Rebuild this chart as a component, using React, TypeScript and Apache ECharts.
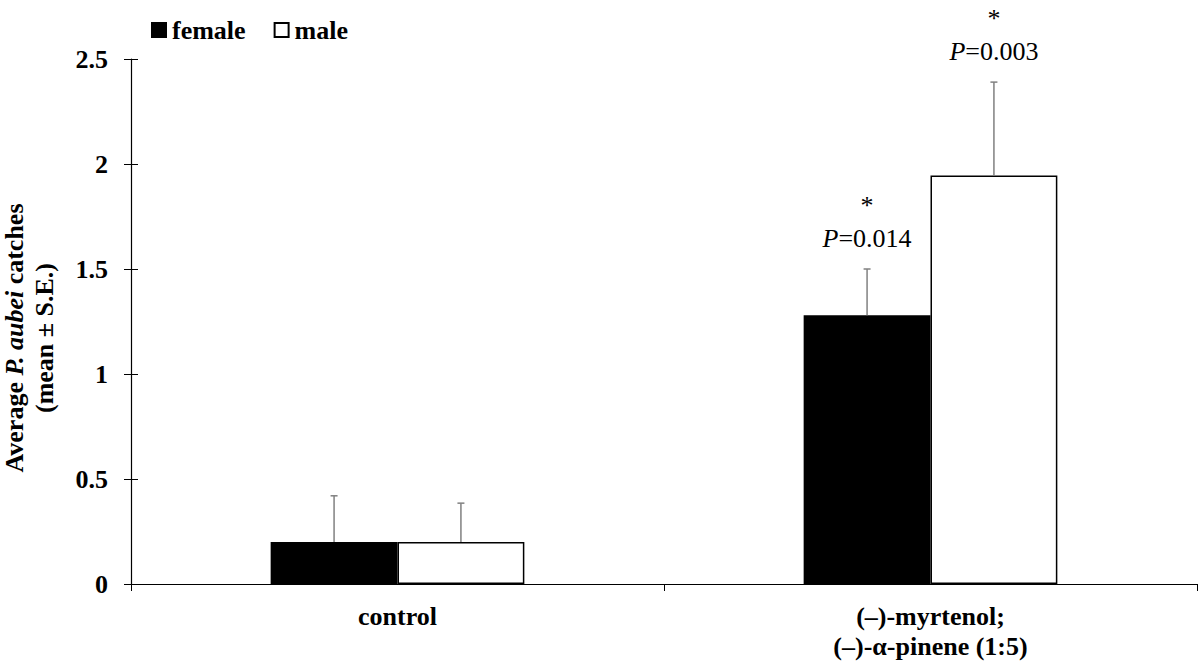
import React, { useEffect, useRef } from "react";
import * as echarts from "echarts";

const categories = ["control", "(–)-myrtenol;\n(–)-α-pinene (1:5)"];
const femaleMeans = [0.2, 1.28];
const femaleSE = [0.22, 0.22];
const maleMeans = [0.2, 1.945];
const maleSE = [0.185, 0.445];
const femaleP = ["", "0.014"];
const maleP = ["", "0.003"];
const yTicks = [0, 0.5, 1, 1.5, 2, 2.5];

const FONT = '"Liberation Serif", "Times New Roman", serif';
const BAR_RATIO = 0.238;

export default function App() {
  const ref = useRef<HTMLDivElement>(null);
  useEffect(() => {
    document.body.style.margin = "0";
    const chart = echarts.init(ref.current!, null, { renderer: "svg" });
    const errData: any[] = [];
    const errLabels: string[] = [];
    categories.forEach((_, i) => {
      errData.push([i, femaleMeans[i], femaleSE[i], -1]);
      errLabels.push(femaleP[i]);
      errData.push([i, maleMeans[i], maleSE[i], 1]);
      errLabels.push(maleP[i]);
    });
    const option: any = {
      animation: false,
      backgroundColor: "#fff",
      textStyle: { fontFamily: FONT },
      grid: { left: 131, right: 3, top: 59, bottom: 77, containLabel: false },
      legend: {
        left: 146,
        top: 12,
        itemWidth: 14,
        itemHeight: 14,
        itemGap: 28,
        icon: "rect",
        data: ["female", "male"],
        textStyle: { fontFamily: FONT, fontWeight: "bold", fontSize: 26, color: "#000", padding: [0, 0, 0, 1] },
      },
      xAxis: {
        type: "category",
        data: categories,
        axisLine: { lineStyle: { color: "#000", width: 1.2 } },
        axisTick: { show: true, length: 7, lineStyle: { color: "#000" } },
        axisLabel: {
          fontFamily: FONT,
          fontWeight: "bold",
          fontSize: 26,
          color: "#000",
          margin: 17,
          lineHeight: 30,
        },
      },
      yAxis: [
        {
          type: "value",
          min: 0,
          max: 2.5,
          interval: 0.5,
          splitLine: { show: false },
          axisLine: { show: true, lineStyle: { color: "#000", width: 1.2 } },
          axisTick: { show: true, length: 7, lineStyle: { color: "#000" } },
          axisLabel: {
            fontFamily: FONT,
            fontWeight: "bold",
            fontSize: 26,
            color: "#000",
            margin: 23,
            formatter: (v: number) => (yTicks.includes(v) ? String(v) : ""),
          },
        },
        {
          type: "value",
          position: "left",
          min: 0,
          max: 2.5,
          interval: 0.5,
          splitLine: { show: false },
          axisLine: { show: false },
          axisTick: { show: true, inside: true, length: 7, lineStyle: { color: "#000" } },
          axisLabel: { show: false },
        },
      ],
      graphic: [
        {
          type: "text",
          x: 29,
          y: 338,
          rotation: Math.PI / 2,
          style: {
            text: "{b|Average }{bi|P. aubei}{b| catches}\n{b|(mean ± S.E.)}",
            align: "center",
            verticalAlign: "middle",
            rich: {
              b: { fontFamily: FONT, fontWeight: "bold", fontSize: 26, fill: "#000", lineHeight: 30 },
              bi: {
                fontFamily: FONT,
                fontWeight: "bold",
                fontStyle: "italic",
                fontSize: 26,
                fill: "#000",
                lineHeight: 30,
              },
            },
          },
        },
      ],
      series: [
        {
          name: "female",
          type: "bar",
          data: femaleMeans,
          barWidth: (BAR_RATIO * 100).toFixed(1) + "%",
          barGap: "0%",
          itemStyle: { color: "#000", borderColor: "#000", borderWidth: 1.5 },
        },
        {
          name: "male",
          type: "bar",
          data: maleMeans,
          barWidth: (BAR_RATIO * 100).toFixed(1) + "%",
          barGap: "0%",
          itemStyle: { color: "#fff", borderColor: "#000", borderWidth: 1.5 },
        },
        {
          type: "custom",
          data: errData,
          z: 10,
          renderItem: (params: any, api: any) => {
            const idx = api.value(0);
            const mean = api.value(1);
            const se = api.value(2);
            const side = api.value(3);
            const base = api.coord([idx, mean]);
            const top = api.coord([idx, mean + se]);
            const band = api.size([1, 0])[0];
            const bw = band * BAR_RATIO;
            const x = base[0] + (side * bw) / 2;
            const lineStyle = { stroke: "#808080", lineWidth: 1.5 };
            const children: any[] = [
              { type: "line", shape: { x1: x, y1: base[1], x2: x, y2: top[1] }, style: lineStyle },
              { type: "line", shape: { x1: x - 3.5, y1: top[1], x2: x + 3.5, y2: top[1] }, style: lineStyle },
            ];
            const p = errLabels[params.dataIndex];
            if (p) {
              children.push({
                type: "text",
                style: {
                  text: "*",
                  x,
                  y: top[1] - 64,
                  align: "center",
                  verticalAlign: "middle",
                  fontFamily: FONT,
                  fontSize: 26,
                  fill: "#000",
                },
              });
              children.push({
                type: "text",
                style: {
                  text: "{i|P}{n|=" + p + "}",
                  x,
                  y: top[1] - 31,
                  align: "center",
                  verticalAlign: "middle",
                  rich: {
                    i: { fontFamily: FONT, fontStyle: "italic", fontSize: 26, fill: "#000" },
                    n: { fontFamily: FONT, fontSize: 26, fill: "#000" },
                  },
                },
              });
            }
            return { type: "group", children };
          },
        },
      ],
    };
    chart.setOption(option);
    return () => chart.dispose();
  }, []);
  return <div ref={ref} style={{ width: 1200, height: 661 }} />;
}
